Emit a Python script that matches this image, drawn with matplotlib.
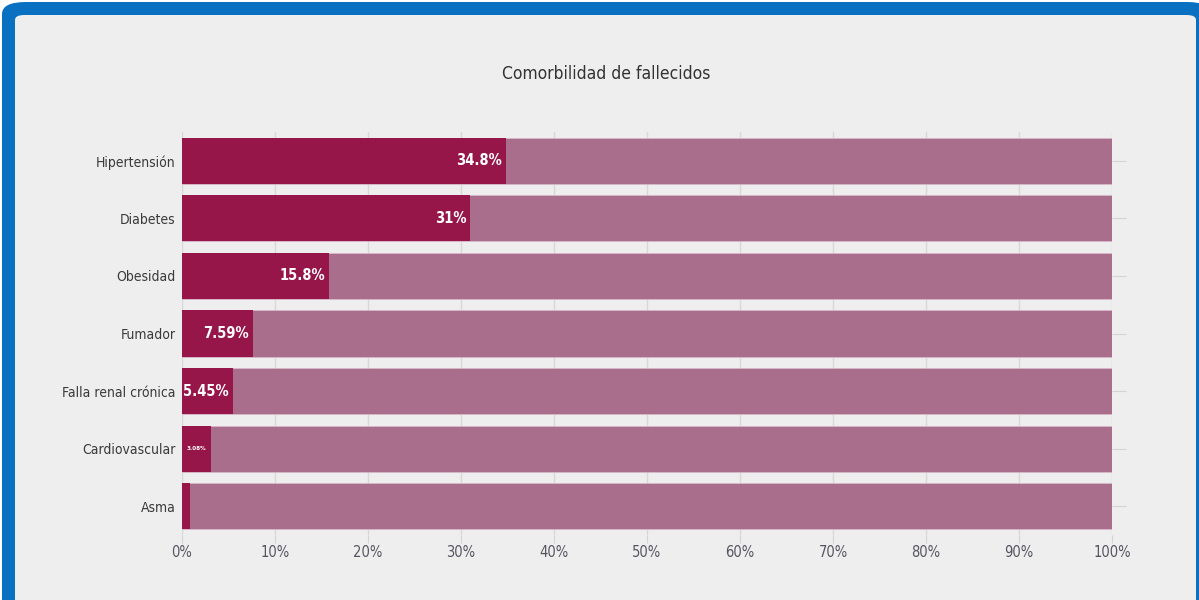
import matplotlib
matplotlib.use("Agg")
import matplotlib.pyplot as plt
from matplotlib.patches import FancyBboxPatch
from matplotlib import font_manager

categories = ["Hipertensión", "Diabetes", "Obesidad", "Fumador",
              "Falla renal crónica", "Cardiovascular", "Asma"]
values = [34.8, 31.0, 15.8, 7.59, 5.45, 3.08, 0.9]
labels = ["34.8%", "31%", "15.8%", "7.59%", "5.45%", "3.08%", ""]
totals = [100] * len(categories)
xticks = [0, 10, 20, 30, 40, 50, 60, 70, 80, 90, 100]

avail = {f.name for f in font_manager.fontManager.ttflist}
condensed = [f for f in font_manager.fontManager.ttflist
             if f.name == "DejaVu Sans" and "ondensed" in f.fname]
if "Liberation Sans Narrow" in avail:
    plt.rcParams['font.family'] = ['Liberation Sans Narrow', 'DejaVu Sans']
else:
    plt.rcParams['font.family'] = ['DejaVu Sans']
    if condensed:
        plt.rcParams['font.stretch'] = 'condensed'

W, H = 1199, 600
fig = plt.figure(figsize=(W / 100, H / 100), dpi=100, facecolor="white")

frame = FancyBboxPatch((2 / W, -0.05), (W + 10) / W, (H - 2) / H + 0.05,
                       boxstyle="round,pad=0,rounding_size=0.02",
                       transform=fig.transFigure, facecolor="#0A71C2",
                       edgecolor="none", zorder=-2)
fig.patches.append(frame)
panel = FancyBboxPatch((15 / W, -0.05), (1196 - 15) / W, (H - 15) / H + 0.05,
                       boxstyle="round,pad=0,rounding_size=0.008",
                       transform=fig.transFigure, facecolor="#EEEEEE",
                       edgecolor="none", zorder=-1)
fig.patches.append(panel)

ax = fig.add_axes([182 / W, 1 - 535 / H, (1112 - 182) / W, (535 - 132) / H])
ax.set_facecolor("none")
ax.set_zorder(1)

y = list(range(len(categories)))
ax.barh(y, totals, height=0.8, color="#A86E8C", edgecolor="#D9B8C8",
        linewidth=0.6, zorder=2)
ax.barh(y, values, height=0.8, color="#96164A", edgecolor="none", zorder=3)

for i, (v, lab) in enumerate(zip(values, labels)):
    if not lab:
        continue
    fs = 10.5 if v > 4 else 4.5
    ax.text(v - 0.45, i, lab, ha="right", va="center", color="white",
            fontsize=fs, fontweight="bold", zorder=4)

ax.set_xlim(0, 100)
ax.set_ylim(len(categories) - 0.5, -0.5)
ax.set_xticks(xticks)
ax.set_xticklabels([f"{t}%" for t in xticks], fontsize=10.5, color="#555560")
ax.set_yticks(y)
ax.set_yticklabels(categories, fontsize=10, color="#3a3a3a")
ax.tick_params(axis="x", length=6, color="#d4d4d4", pad=1)
ax.tick_params(axis="y", left=False, right=True, labelleft=True,
               length=10, color="#d4d4d4", pad=-5.5)
ax.grid(axis="x", color="#d8d8d8", linewidth=1, zorder=1)
ax.set_axisbelow(True)
for s in ax.spines.values():
    s.set_visible(False)

fig.text(606 / W, 1 - 74 / H, "Comorbilidad de fallecidos", ha="center",
         va="center", fontsize=12.5, color="#333333")

fig.savefig("out.png", dpi=100, facecolor=fig.get_facecolor())
